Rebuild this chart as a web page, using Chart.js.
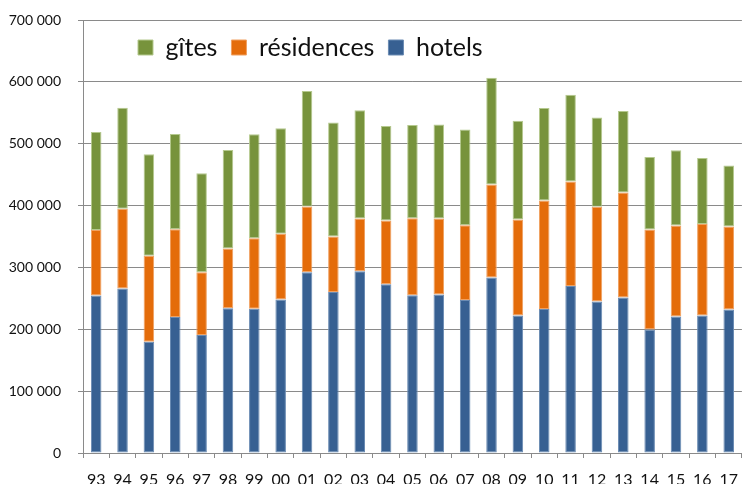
<!DOCTYPE html>
<html>
<head>
<meta charset="utf-8">
<script src="https://cdn.jsdelivr.net/npm/chart.js@4/dist/chart.umd.min.js"></script>
<style>
  html, body { margin: 0; padding: 0; background: #fff; overflow: hidden; }
  #wrap { position: relative; width: 750px; height: 484px; }
</style>
</head>
<body>
<div id="wrap"><canvas id="chart"></canvas></div>
<script>
// --- DATA ---
const years = ['93','94','95','96','97','98','99','00','01','02','03','04','05','06','07','08','09','10','11','12','13','14','15','16','17'];
const hotels = [254600, 265900, 179800, 219700, 190600, 234200, 233100, 248200, 292400, 260100, 294000, 273000, 255200, 256200, 247200, 283700, 222300, 232600, 269800, 244900, 251400, 199700, 220700, 222300, 232000];
const residences = [106100, 128800, 138900, 142200, 101800, 96400, 114200, 106100, 106000, 89900, 85000, 102800, 124400, 122800, 121100, 150200, 155100, 175500, 169000, 153000, 169600, 161500, 147000, 148100, 134100];
const gites = [158300, 163600, 164300, 153900, 159900, 159400, 168000, 170700, 186900, 184100, 175100, 153000, 150800, 151900, 154500, 172900, 159900, 149700, 140500, 144300, 132000, 117500, 121800, 106700, 98500];
const yTicks = [0, 100000, 200000, 300000, 400000, 500000, 600000, 700000];

const fmt = v => String(v).replace(/\B(?=(\d{3})+(?!\d))/g, ' ');
const gridColor = '#8a8a8a';

// legend drawn inside the plot, no space reserved for it
const legendInside = {
  id: 'legendInside',
  afterInit(chart) {
    const lg = chart.legend;
    const fit = lg.fit;
    lg.fit = function () {
      fit.call(this);
      this.fullHeight = this.height;
      this.height = 0;
    };
  },
  afterLayout(chart) {
    const lg = chart.legend;
    lg.left = 124;
    lg.right = lg.left + 450;
    lg.width = 450;
    lg.top = 21;
    lg.height = lg.fullHeight;
    lg.bottom = lg.top + lg.height;
  }
};

new Chart(document.getElementById('chart'), {
  type: 'bar',
  data: {
    labels: years,
    datasets: [
      { label: 'hotels', data: hotels, backgroundColor: '#376092', borderColor: '#6a8bb3' },
      { label: 'résidences', data: residences, backgroundColor: '#e46c0a', borderColor: '#f0a060' },
      { label: 'gîtes', data: gites, backgroundColor: '#77933c', borderColor: '#b5c98e' }
    ]
  },
  options: {
    responsive: true,
    maintainAspectRatio: false,
    animation: false,
    layout: { padding: { top: 20, left: 0, right: 0, bottom: 0 } },
    datasets: {
      bar: { barPercentage: 0.4, categoryPercentage: 1, borderWidth: 1, borderSkipped: false }
    },
    plugins: {
      tooltip: { enabled: false },
      legend: {
        reverse: true,
        align: 'start',
        labels: {
          boxWidth: 15,
          boxHeight: 15,
          padding: 14,
          color: '#111',
          font: { family: 'Lato', size: 25 }
        }
      }
    },
    scales: {
      x: {
        stacked: true,
        afterFit: s => { s.height = 31; },
        grid: { display: true, drawOnChartArea: false, tickLength: 5, color: gridColor, offset: true },
        border: { display: true, color: gridColor },
        ticks: { color: '#111', font: { family: 'Lato', size: 16 }, padding: 12, maxRotation: 0, autoSkip: false }
      },
      y: {
        stacked: true,
        min: 0,
        max: 700000,
        afterFit: s => { s.width = 83; s.paddingTop = 0; s.paddingBottom = 0; },
        afterBuildTicks: s => { s.ticks = yTicks.map(v => ({ value: v })); },
        grid: { color: gridColor, tickLength: 5 },
        border: { display: true, color: gridColor },
        ticks: { color: '#111', font: { family: 'Lato', size: 14 }, padding: 17, callback: v => fmt(v) }
      }
    }
  },
  plugins: [legendInside]
});
</script>
</body>
</html>
